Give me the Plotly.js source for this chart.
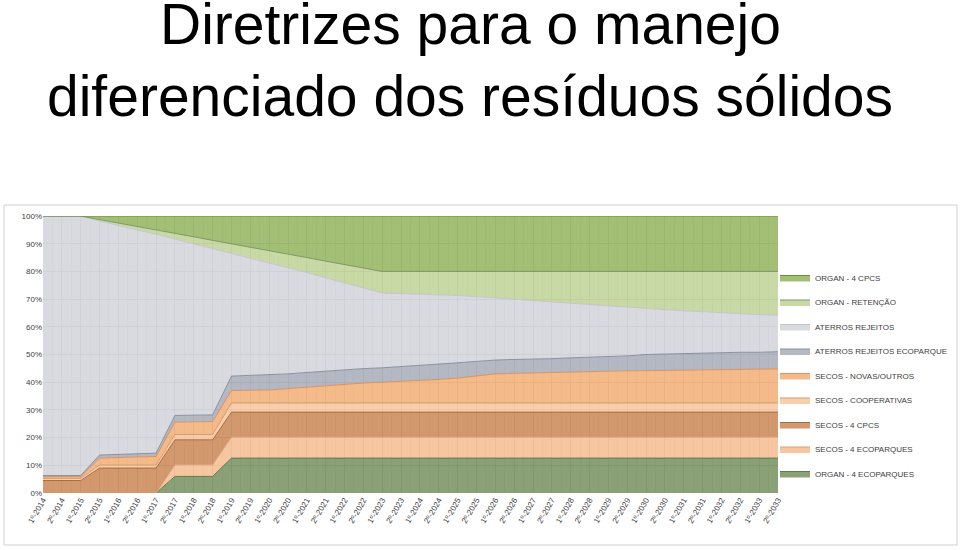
<!DOCTYPE html>
<html>
<head>
<meta charset="utf-8">
<script src="https://cdn.plot.ly/plotly-3.0.1.min.js"></script>
<style>
html,body{margin:0;padding:0;background:#fff;}
#chart{width:960px;height:550px;}
</style>
</head>
<body>
<div id="chart"></div>
<script>
// Category labels (semesters)
const years = [2014,2015,2016,2017,2018,2019,2020,2021,2022,2023,2024,2025,2026,2027,2028,2029,2030,2031,2032,2033];
const periods = [];
years.forEach(y => { periods.push('1º-' + y); periods.push('2º-' + y); });

// Series values (% of total), stacked bottom to top
const organEcoparques = [0,0,0,0,0,0,0,6,6,6,12.6,12.6,12.6,12.6,12.6,12.6,12.6,12.6,12.6,12.6,12.6,12.6,12.6,12.6,12.6,12.6,12.6,12.6,12.6,12.6,12.6,12.6,12.6,12.6,12.6,12.6,12.6,12.6,12.6,12.6];
const secosEcoparques = [0,0,0,0,0,0,0,4.2,4.2,4.2,7.6,7.6,7.6,7.6,7.6,7.6,7.6,7.6,7.6,7.6,7.6,7.6,7.6,7.6,7.6,7.6,7.6,7.6,7.6,7.6,7.6,7.6,7.6,7.6,7.6,7.6,7.6,7.6,7.6,7.6];
const secosCpcs = [4.5,4.5,4.5,9,9,9,9,9,9,9,9,9,9,9,9,9,9,9,9,9,9,9,9,9,9,9,9,9,9,9,9,9,9,9,9,9,9,9,9,9];
const secosCooperativas = [0.8,0.8,0.8,1.1,1.1,1.1,1.1,1.9,1.9,1.9,3.3,3.3,3.3,3.3,3.3,3.3,3.3,3.3,3.3,3.3,3.3,3.3,3.3,3.3,3.3,3.3,3.3,3.3,3.3,3.3,3.3,3.3,3.3,3.3,3.3,3.3,3.3,3.3,3.3,3.3];
const secosNovas = [0.6,0.6,0.6,2.5,2.7,2.9,3.1,4.5,4.6,4.7,4.5,4.6,4.7,5.2,5.7,6.2,6.8,7.2,7.5,7.8,8.1,8.5,9.0,9.7,10.5,10.7,10.8,10.9,11.1,11.3,11.5,11.6,11.8,11.9,12.0,12.1,12.1,12.2,12.2,12.3];
const aterrosEcoparque = [0.4,0.4,0.4,1.1,1.1,1.1,1.2,2.4,2.4,2.4,5.2,5.3,5.4,5.3,5.3,5.3,5.2,5.2,5.2,5.3,5.4,5.4,5.5,5.3,5.0,5.0,5.0,5.1,5.2,5.2,5.2,5.4,5.7,5.8,5.9,6.0,6.0,6.1,6.1,6.2];
const aterrosRejeitos = [93.7,93.7,93.7,84.5,82.8,80.9,79.0,63.7,61.9,60.0,44.4,42.5,40.6,38.4,36.1,33.7,31.4,29.1,27.0,26.4,25.8,25.2,24.3,23.4,22.5,21.8,21.2,20.5,19.7,19.0,18.3,17.5,16.6,16.0,15.4,14.8,14.4,13.9,13.6,13.2];
const organRetencao = [0,0,0,0.5,0.8,1.2,1.6,2.0,2.5,3.0,3.4,3.8,4.3,4.8,5.4,6.0,6.6,7.2,7.8,8.0,8.2,8.4,8.7,9.1,9.5,10.0,10.5,11.0,11.5,12.0,12.5,13.0,13.4,13.8,14.2,14.6,15.0,15.3,15.6,15.8];
const organCpcs = [0,0,0,1.3,2.5,3.8,5.0,6.3,7.5,8.8,10.0,11.3,12.5,13.8,15.0,16.3,17.5,18.8,20,20,20,20,20,20,20,20,20,20,20,20,20,20,20,20,20,20,20,20,20,20];

const xIdx = periods.map((_, i) => i);

const series = [
  {name:'ORGAN - 4 ECOPARQUES', y:organEcoparques, fill:'rgba(122,148,100,0.88)', line:'#61794d'},
  {name:'SECOS - 4 ECOPARQUES', y:secosEcoparques, fill:'rgba(244,190,146,0.88)', line:'#d9a079'},
  {name:'SECOS - 4 CPCS', y:secosCpcs, fill:'rgba(204,138,90,0.88)', line:'#aa6a3c'},
  {name:'SECOS - COOPERATIVAS', y:secosCooperativas, fill:'rgba(247,200,160,0.88)', line:'#d49b70'},
  {name:'SECOS - NOVAS/OUTROS', y:secosNovas, fill:'rgba(242,176,122,0.88)', line:'#d89462'},
  {name:'ATERROS REJEITOS ECOPARQUE', y:aterrosEcoparque, fill:'rgba(170,174,186,0.88)', line:'#8a91a2'},
  {name:'ATERROS REJEITOS', y:aterrosRejeitos, fill:'rgba(212,213,219,0.88)', line:'#c4c6cc'},
  {name:'ORGAN - RETENÇÃO', y:organRetencao, fill:'rgba(192,212,152,0.88)', line:'#7f9866'},
  {name:'ORGAN - 4 CPCS', y:organCpcs, fill:'rgba(150,182,98,0.88)', line:'#6d8a43'}
];

const traces = series.map((s, k) => ({
  type:'scatter', mode:'lines', x:xIdx, y:s.y, name:s.name,
  stackgroup:'one', groupnorm:'percent',
  legendgroup:'g'+k, legendrank: 100 - k,
  line:{color:s.line, width:1},
  fillcolor:s.fill,
  hoverinfo:'name+y'
}));

const L = 43, R = 778, T = 216, B = 493;
const W = R - L, H = B - T;
const px = X => (X - L) / W;
const py = Y => (B - Y) / H;

const layout = {
  width:960, height:550,
  margin:{l:L, r:960-R, t:T, b:550-B, pad:0, autoexpand:false},
  paper_bgcolor:'#ffffff', plot_bgcolor:'#ffffff',
  font:{family:'Liberation Sans, Arial, sans-serif', color:'#404040'},
  showlegend:true,
  legend:{
    x:px(775), y:py(263), xanchor:'left', yanchor:'top',
    traceorder:'grouped', tracegroupgap:5.5,
    font:{size:8, color:'#404040'},
    itemwidth:30, bgcolor:'rgba(0,0,0,0)'
  },
  xaxis:{
    range:[0, periods.length-1],
    tickmode:'array', tickvals:xIdx, ticktext:periods,
    tickangle:-60, tickfont:{size:8, color:'#404040'},
    showgrid:true, gridcolor:'rgba(110,110,110,0.4)', gridwidth:1,
    minor:{dtick:0.5, showgrid:true, gridcolor:'rgba(110,110,110,0.22)', ticks:''},
    zeroline:false, showline:false, ticks:'', fixedrange:true
  },
  yaxis:{
    range:[0,100], dtick:10, ticksuffix:'%',
    tickfont:{size:8, color:'#404040'},
    showgrid:true, gridcolor:'rgba(110,110,110,0.5)', gridwidth:1,
    zeroline:false, showline:false, ticks:'', fixedrange:true
  },
  shapes:[{
    type:'rect', xref:'paper', yref:'paper',
    x0:px(4), x1:px(957), y0:py(545), y1:py(205),
    line:{color:'#d0d0d0', width:1}, fillcolor:'rgba(0,0,0,0)', layer:'below'
  }],
  annotations:[
    {text:'Diretrizes para o manejo', xref:'paper', yref:'paper', x:px(470), y:py(24),
     xanchor:'center', yanchor:'middle', showarrow:false,
     font:{size:57, color:'#000000', family:'Liberation Sans, Arial, sans-serif'}},
    {text:'diferenciado dos resíduos sólidos', xref:'paper', yref:'paper', x:px(470), y:py(96),
     xanchor:'center', yanchor:'middle', showarrow:false,
     font:{size:57, color:'#000000', family:'Liberation Sans, Arial, sans-serif'}}
  ]
};

Plotly.newPlot('chart', traces, layout, {staticPlot:true, displayModeBar:false});
</script>
</body>
</html>
